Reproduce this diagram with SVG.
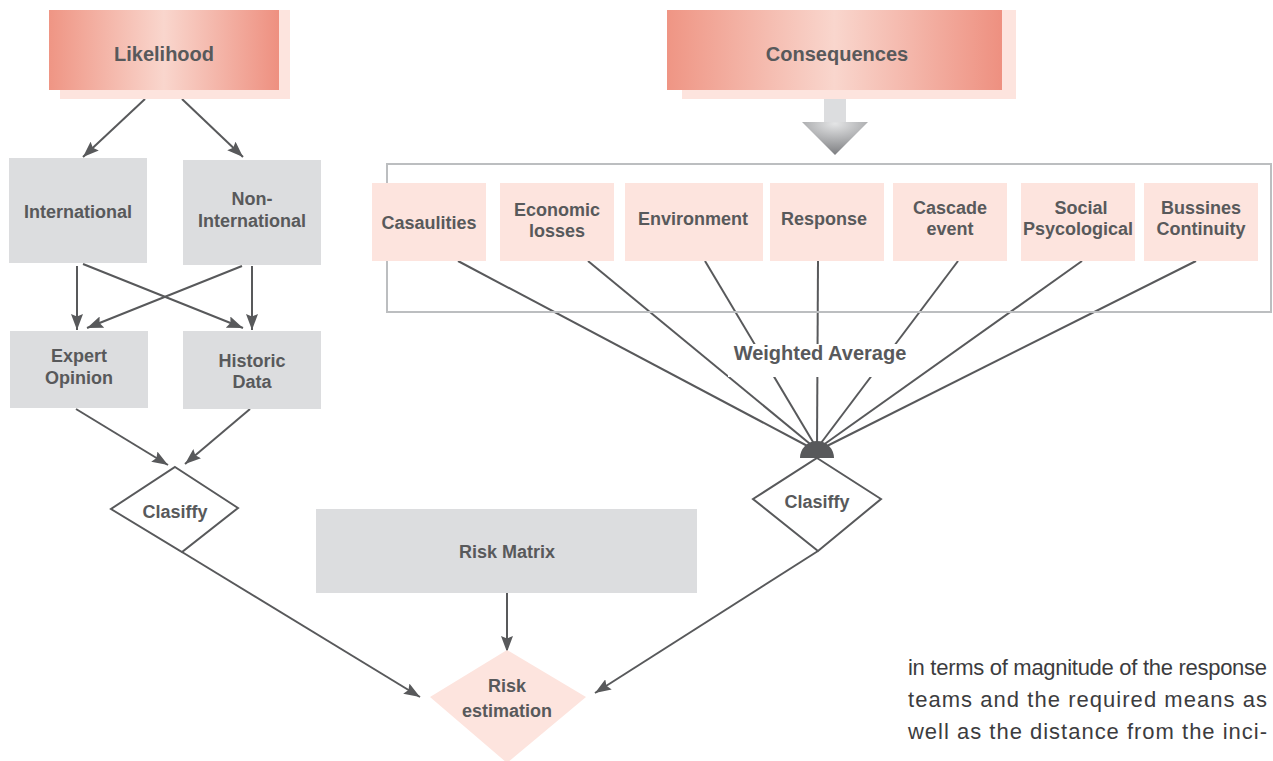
<svg xmlns="http://www.w3.org/2000/svg" width="1273" height="761" viewBox="0 0 1273 761">
  <defs>
    <linearGradient id="headGrad" x1="0" y1="0" x2="1" y2="0">
      <stop offset="0" stop-color="#ef9584"/>
      <stop offset="0.5" stop-color="#f9d6cd"/>
      <stop offset="1" stop-color="#ee9080"/>
    </linearGradient>
    <radialGradient id="triGrad" cx="0.5" cy="0.05" r="0.95">
      <stop offset="0" stop-color="#e4e5e6"/>
      <stop offset="1" stop-color="#7c7d80"/>
    </radialGradient>
    <marker id="arrow" viewBox="0 0 16 12" markerWidth="16" markerHeight="12" refX="16" refY="6" orient="auto" markerUnits="userSpaceOnUse">
      <path d="M0,0 L16,6 L0,12 L2.5,6 Z" fill="#58595b"/>
    </marker>
    <style>
      .lbl { font-family: "Liberation Sans", Arial, sans-serif; font-weight: bold; fill: #58595b; text-anchor: middle; }
      .big { font-size: 20px; }
      .sm { font-size: 18px; }
      .pink { fill: #fde4de; }
      .grey { fill: #dcdddf; }
      .shadow { fill: #fde4de; }
      .edge { stroke: #58595b; stroke-width: 2; fill: none; }
      .arr { stroke: #58595b; stroke-width: 2; fill: none; marker-end: url(#arrow); }
      .body { font-family: "Liberation Sans", Arial, sans-serif; font-size: 22px; fill: #3c3c3e; }
    </style>
  </defs>

  <rect width="1273" height="761" fill="#ffffff"/>

  <!-- connectors -->
  <g id="connectors">
    <!-- Likelihood branch -->
    <line class="arr" x1="145" y1="99" x2="83" y2="157"/>
    <line class="arr" x1="182" y1="99" x2="243" y2="157"/>
    <line class="arr" x1="77" y1="266" x2="77" y2="330"/>
    <line class="arr" x1="252" y1="266" x2="252" y2="330"/>
    <line class="arr" x1="83" y1="264" x2="243" y2="328"/>
    <line class="arr" x1="242" y1="266" x2="87" y2="328"/>
    <line class="arr" x1="76" y1="409" x2="168" y2="465"/>
    <line class="arr" x1="250" y1="409" x2="185" y2="464"/>
    <line class="arr" x1="182" y1="552" x2="420" y2="697"/>
    <!-- Risk matrix -->
    <line class="arr" x1="507" y1="593" x2="507" y2="652"/>
    <!-- Consequences fan-in -->
    <line class="edge" x1="458" y1="261" x2="815" y2="450"/>
    <line class="edge" x1="588" y1="261" x2="815" y2="448"/>
    <line class="edge" x1="705" y1="261" x2="816" y2="447"/>
    <line class="edge" x1="818" y1="261" x2="817" y2="447"/>
    <line class="edge" x1="958" y1="261" x2="818" y2="447"/>
    <line class="edge" x1="1082" y1="261" x2="819" y2="448"/>
    <line class="edge" x1="1196" y1="261" x2="819" y2="450"/>
    <line class="arr" x1="818" y1="551" x2="595" y2="693"/>
  </g>

  <!-- Likelihood header -->
  <g id="likelihood">
    <rect class="shadow" x="60" y="10" width="230" height="89"/>
    <rect x="49" y="10" width="230" height="80" fill="url(#headGrad)"/>
    <text class="lbl big" x="164" y="61">Likelihood</text>
  </g>

  <!-- Consequences header -->
  <g id="consequences">
    <rect class="shadow" x="682" y="10" width="334" height="89"/>
    <rect x="667" y="10" width="335" height="80" fill="url(#headGrad)"/>
    <text class="lbl big" x="837" y="61">Consequences</text>
  </g>

  <!-- block arrow -->
  <g id="down-arrow">
    <rect x="824" y="99" width="22" height="23" fill="#dcdddf"/>
    <polygon points="802,122 868,122 835,155" fill="url(#triGrad)"/>
  </g>

  <!-- consequence categories -->
  <g id="categories-frame">
    <rect x="387" y="164" width="884" height="148" fill="none" stroke="#bcbec0" stroke-width="2"/>
  </g>
  <g id="casaulities">
    <rect class="pink" x="372" y="183" width="114" height="78"/>
    <text class="lbl sm" x="429" y="229">Casaulities</text>
  </g>
  <g id="economic-losses">
    <rect class="pink" x="500" y="183" width="114" height="78"/>
    <text class="lbl sm" x="557" y="216">Economic</text>
    <text class="lbl sm" x="557" y="237">losses</text>
  </g>
  <g id="environment">
    <rect class="pink" x="625" y="183" width="138" height="78"/>
    <text class="lbl sm" x="693" y="225">Environment</text>
  </g>
  <g id="response">
    <rect class="pink" x="770" y="183" width="114" height="78"/>
    <text class="lbl sm" x="824" y="225">Response</text>
  </g>
  <g id="cascade-event">
    <rect class="pink" x="893" y="183" width="114" height="78"/>
    <text class="lbl sm" x="950" y="214">Cascade</text>
    <text class="lbl sm" x="950" y="235">event</text>
  </g>
  <g id="social-psycological">
    <rect class="pink" x="1021" y="183" width="114" height="78"/>
    <text class="lbl sm" x="1081" y="214">Social</text>
    <text class="lbl sm" x="1078" y="235">Psycological</text>
  </g>
  <g id="bussines-continuity">
    <rect class="pink" x="1144" y="183" width="114" height="78"/>
    <text class="lbl sm" x="1201" y="214">Bussines</text>
    <text class="lbl sm" x="1201" y="235">Continuity</text>
  </g>

  <!-- weighted average label over the fan lines -->
  <g id="weighted-average">
    <rect x="728" y="344" width="184" height="33" fill="#ffffff"/>
    <text class="lbl big" x="820" y="360">Weighted Average</text>
  </g>

  <!-- junction -->
  <g id="junction">
    <path d="M800,458 A17,17 0 0 1 834,458 Z" fill="#58595b"/>
  </g>

  <!-- Likelihood sources -->
  <g id="international">
    <rect class="grey" x="9" y="158" width="138" height="105"/>
    <text class="lbl sm" x="78" y="218">International</text>
  </g>
  <g id="non-international">
    <rect class="grey" x="183" y="160" width="138" height="105"/>
    <text class="lbl sm" x="252" y="205">Non-</text>
    <text class="lbl sm" x="252" y="227">International</text>
  </g>
  <g id="expert-opinion">
    <rect class="grey" x="10" y="331" width="138" height="77"/>
    <text class="lbl sm" x="79" y="362">Expert</text>
    <text class="lbl sm" x="79" y="384">Opinion</text>
  </g>
  <g id="historic-data">
    <rect class="grey" x="183" y="331" width="138" height="78"/>
    <text class="lbl sm" x="252" y="367">Historic</text>
    <text class="lbl sm" x="252" y="388">Data</text>
  </g>

  <!-- classification diamonds -->
  <g id="clasiffy-left">
    <polygon points="175,467 238,508 182,552 111,509" fill="#ffffff" stroke="#58595b" stroke-width="2"/>
    <text class="lbl sm" x="175" y="518">Clasiffy</text>
  </g>
  <g id="clasiffy-right">
    <polygon points="817,458 881,499 818,551 753,499" fill="#ffffff" stroke="#58595b" stroke-width="2"/>
    <text class="lbl sm" x="817" y="508">Clasiffy</text>
  </g>

  <!-- risk matrix -->
  <g id="risk-matrix">
    <rect class="grey" x="316" y="509" width="381" height="84"/>
    <text class="lbl sm" x="507" y="558">Risk Matrix</text>
  </g>

  <!-- risk estimation -->
  <g id="risk-estimation">
    <polygon class="pink" points="507,650 586,697 507,763 430,697"/>
    <text class="lbl sm" x="507" y="692">Risk</text>
    <text class="lbl sm" x="507" y="717">estimation</text>
  </g>

  <!-- running text -->
  <g id="body-text">
    <text class="body" x="908" y="675" textLength="359" lengthAdjust="spacing">in terms of magnitude of the response</text>
    <text class="body" x="908" y="707" textLength="359" lengthAdjust="spacing">teams and the required means as</text>
    <text class="body" x="908" y="739" textLength="359" lengthAdjust="spacing">well as the distance from the inci-</text>
  </g>
</svg>
